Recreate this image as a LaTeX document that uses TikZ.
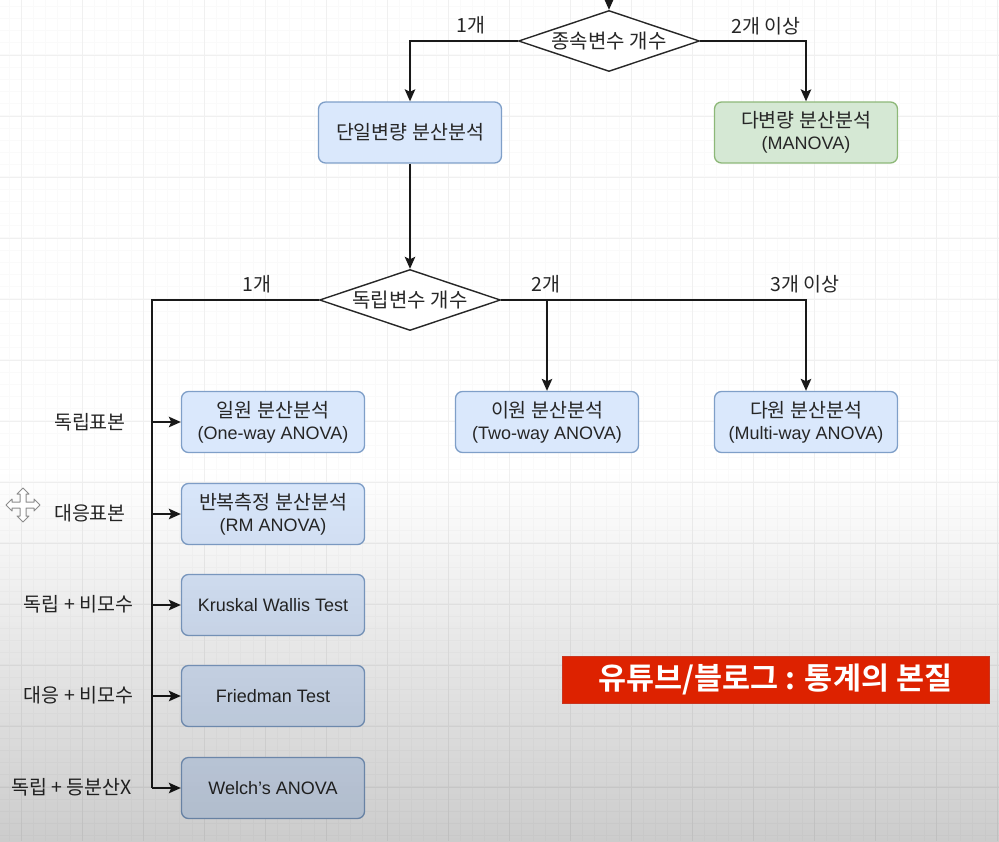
\documentclass[tikz,border=0pt]{standalone}
\usepackage{fontspec}
\setmainfont{Liberation Sans}
\newfontfamily\krf{Noto Sans CJK KR}
\newfontfamily\krb{Noto Sans CJK KR Bold}
\newcommand{\kr}[1]{\raisebox{-1.2pt}{\fontsize{19.5}{23}\krf #1}}
\usetikzlibrary{arrows.meta,shapes.geometric}
\definecolor{txt}{HTML}{262626}
\definecolor{bfill}{HTML}{DAE8FC}
\definecolor{bline}{HTML}{7F9FC8}
\definecolor{gfill}{HTML}{D5E8D4}
\definecolor{gline}{HTML}{8DB878}
\definecolor{bred}{HTML}{DD2200}
\definecolor{bredl}{HTML}{C8351F}
\tikzset{
  x=1pt,y=-1pt,
  conn/.style={draw=black!90,line width=1.8pt},
  arr/.style={conn,-{Stealth[length=12pt,width=10.5pt,inset=2.5pt]}},
  boxb/.style={draw=#1,rounded corners=7pt,line width=1.3pt,minimum width=183pt,minimum height=61pt,inner sep=0pt,align=center,text=txt,font=\fontsize{18}{23}\selectfont},
  blue box/.style={boxb=bline,fill=bfill},
  green box/.style={boxb=gline,fill=gfill},
  dia/.style={diamond,aspect=3,draw=black!85,fill=white,line width=1.4pt,minimum width=181pt,minimum height=61pt,inner sep=0pt,text=txt,font=\fontsize{20}{23}\selectfont},
  lab/.style={text=txt,inner sep=0pt,font=\fontsize{18}{23}\selectfont},
}
\begin{document}
\begin{tikzpicture}
\useasboundingbox (0,0) rectangle (999,841);
\clip (0,0) rectangle (999,841);
\fill[white] (0,0) rectangle (999,841);
% grid
\foreach \k in {0,...,81} \draw[black!2,line width=0.8pt] ({\k*12.2+9},0) -- ({\k*12.2+9},841);
\foreach \k in {0,...,68} \draw[black!2,line width=0.8pt] (0,{\k*12.2+6}) -- (999,{\k*12.2+6});
\foreach \k in {0,...,16} \draw[black!6,line width=1pt] ({\k*61+21},0) -- ({\k*61+21},841);
\foreach \k in {0,...,13} \draw[black!6,line width=1pt] (0,{\k*61+55}) -- (999,{\k*61+55});
% nodes
\node[dia] (d1) at (609,41) {\raisebox{-1pt}{\fontsize{20}{23}\krf 종속변수 개수}};
\node[blue box] (uni) at (410,132.5) {\kr{단일변량 분산분석}};
\node[green box] (man) at (806,132.5) {\kr{다변량 분산분석}\\(MANOVA)};
\node[dia] (d2) at (410,300) {\raisebox{-1pt}{\fontsize{20}{23}\krf 독립변수 개수}};
\node[blue box] (b1) at (273,422) {\kr{일원 분산분석}\\(One-way ANOVA)};
\node[blue box] (b2) at (273,514) {\kr{반복측정 분산분석}\\(RM ANOVA)};
\node[blue box] (b3) at (273,605) {Kruskal Wallis Test};
\node[blue box] (b4) at (273,696) {Friedman Test};
\node[blue box] (b5) at (273,788) {Welch's ANOVA};
\node[blue box] (two) at (547,422) {\kr{이원 분산분석}\\(Two-way ANOVA)};
\node[blue box] (multi) at (806,422) {\kr{다원 분산분석}\\(Multi-way ANOVA)};
% labels
\node[lab] (l1) at (471,25) {\kr{1개}};
\node[lab] (l2) at (766,26) {\kr{2개 이상}};
\node[lab] (l3) at (257,284) {\kr{1개}};
\node[lab] (l4) at (546,284) {\kr{2개}};
\node[lab] (l5) at (805,284) {\kr{3개 이상}};
\node[lab] (s1) at (90,422) {\kr{독립표본}};
\node[lab] (s2) at (90,513.5) {\kr{대응표본}};
\node[lab] (s3) at (78.5,604.5) {\kr{독립 + 비모수}};
\node[lab] (s4) at (78.5,695.5) {\kr{대응 + 비모수}};
\node[lab] (s5) at (71.5,787) {\kr{독립 + 등분산X}};
% connectors
\coordinate (top) at (609,0);
\coordinate (c) at (152,300);
\coordinate (t1) at (152,422);
\coordinate (t2) at (152,514);
\coordinate (t3) at (152,605);
\coordinate (t4) at (152,696);
\coordinate (t5) at (152,788);
\draw[arr] (top) -- (d1.north);
\draw[arr] (d1.west) -| (uni.north);
\draw[arr] (d1.east) -| (man.north);
\draw[arr] (uni.south) -- (d2.north);
\draw[conn] (d2.west) -- (c) -- (t5);
\draw[arr] (t1) -- (b1.west);
\draw[arr] (t2) -- (b2.west);
\draw[arr] (t3) -- (b3.west);
\draw[arr] (t4) -- (b4.west);
\draw[arr] (t5) -- (b5.west);
\draw[arr] (d2.east) -| (two.north);
\draw[arr] (d2.east) -| (multi.north);
% darkening towards the bottom of the screenshot
\foreach \y in {470,474,...,838} {
  \pgfmathsetmacro{\op}{0.20*(\y-470)/370}
  \fill[black,fill opacity=\op] (0,\y) rectangle (999,\y+4);
}
% cursor
\draw[black!45,fill=white,line width=1pt,line join=round]
  (23,488) -- (29,494) -- (26,494) -- (26,502) -- (34,502) -- (34,499) -- (40,505)
  -- (34,511) -- (34,508) -- (26,508) -- (26,516) -- (29,516) -- (23,522)
  -- (17,516) -- (20,516) -- (20,508) -- (12,508) -- (12,511) -- (6,505)
  -- (12,499) -- (12,502) -- (20,502) -- (20,494) -- (17,494) -- cycle;
% banner
\node[fill=bred,draw=bredl,line width=0.8pt,minimum width=427pt,minimum height=47pt,inner sep=0pt,text=white,font=\fontsize{30.5}{34}\selectfont] (ban) at (775.5,679.5) {\raisebox{-1pt}{\krb 유튜브/블로그 : 통계의 본질}};
\end{tikzpicture}
\end{document}
